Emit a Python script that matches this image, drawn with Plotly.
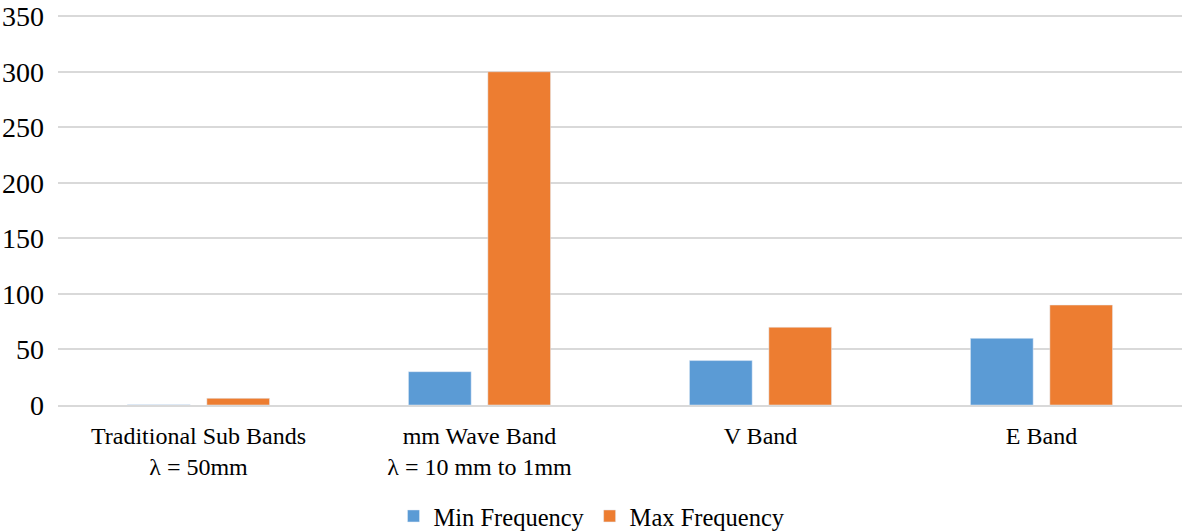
import plotly.graph_objects as go

categories = ["Traditional Sub Bands<br>λ = 50mm", "mm Wave Band<br>λ = 10 mm to 1mm", "V Band", "E Band"]
min_freq = [0.3, 30, 40, 60]
max_freq = [6, 300, 70, 90]
y_ticks = [0, 50, 100, 150, 200, 250, 300, 350]

font = "Liberation Serif, Times New Roman, serif"

fig = go.Figure()
fig.add_trace(go.Bar(name="Min Frequency", x=categories, y=min_freq, marker_color="#5b9bd5"))
fig.add_trace(go.Bar(name="Max Frequency", x=categories, y=max_freq, marker_color="#ed7d31"))

fig.update_layout(
    width=1184, height=532,
    margin=dict(l=58, r=2, t=14, b=127, autoexpand=False),
    paper_bgcolor="white", plot_bgcolor="white",
    barmode="group", bargap=0.435, bargroupgap=0.21,
    font=dict(family=font, size=24, color="#000000"),
    legend=dict(orientation="h", x=0.5, xanchor="center", xref="container",
                y=0.03, yanchor="middle", yref="container",
                font=dict(size=24.5), itemwidth=30, traceorder="normal"),
    showlegend=True,
)
fig.update_yaxes(range=[0, 352], tickvals=y_ticks, showgrid=True, gridcolor="#d9d9d9", gridwidth=1.5,
                 zeroline=False, showline=False, ticks="", ticklabelstandoff=13,
                 tickfont=dict(size=28), automargin=False)
fig.update_xaxes(showline=True, linecolor="#d9d9d9", linewidth=1.5, ticks="", tickfont=dict(size=24),
                 ticklabelstandoff=8, automargin=False)

fig.write_html("out.html", config={"displayModeBar": False},
               post_script="document.body.style.margin='0';document.body.style.overflow='hidden';")
